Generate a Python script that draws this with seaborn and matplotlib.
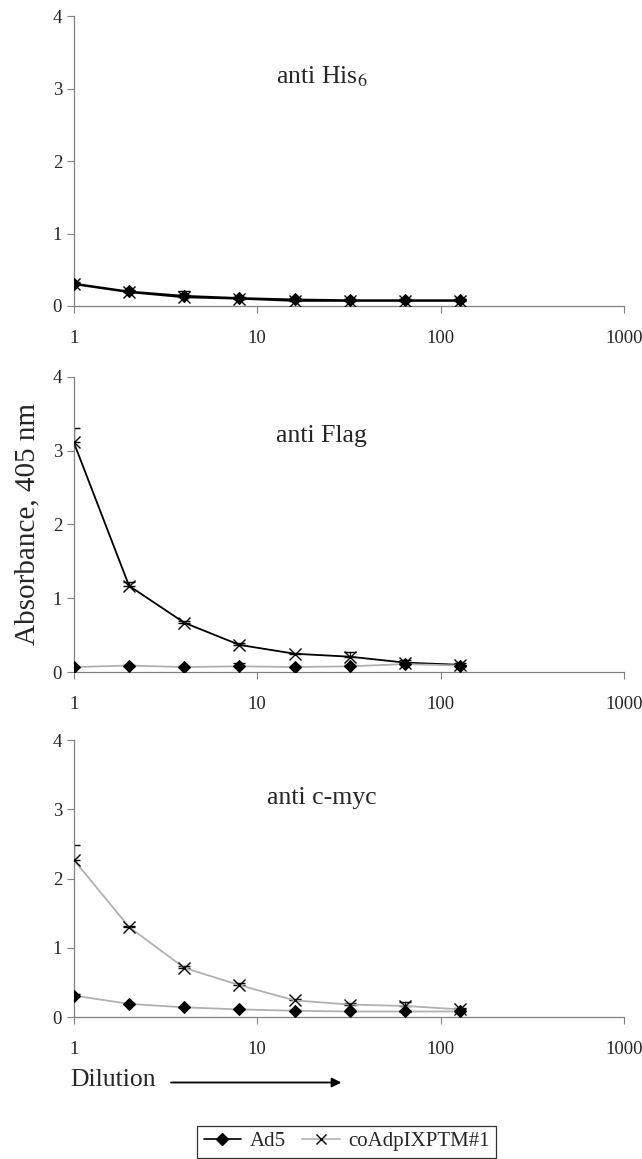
import matplotlib
matplotlib.use("Agg")
import matplotlib.pyplot as plt
import seaborn as sns
import pandas as pd
from matplotlib.lines import Line2D

dilution = [1, 2, 4, 8, 16, 32, 64, 128]

# anti His6
his_ad5 = [0.31, 0.20, 0.14, 0.11, 0.09, 0.08, 0.08, 0.08]
his_co = [0.30, 0.19, 0.12, 0.10, 0.07, 0.07, 0.07, 0.07]
his_ad5_err = [0.02, 0.02, 0.07, 0.02, 0.01, 0.01, 0.01, 0.01]
his_co_err = [0.02, 0.02, 0.03, 0.02, 0.02, 0.02, 0.02, 0.02]

# anti Flag
flag_ad5 = [0.07, 0.09, 0.07, 0.08, 0.07, 0.08, 0.11, 0.09]
flag_co = [3.11, 1.17, 0.67, 0.37, 0.25, 0.21, 0.13, 0.10]
flag_ad5_err = [0.01, 0.01, 0.01, 0.04, 0.01, 0.02, 0.02, 0.01]
flag_co_err = [0.20, 0.05, 0.02, 0.02, 0.01, 0.06, 0.03, 0.02]

# anti c-myc
myc_ad5 = [0.31, 0.19, 0.14, 0.11, 0.09, 0.08, 0.08, 0.08]
myc_co = [2.27, 1.30, 0.71, 0.46, 0.24, 0.18, 0.16, 0.11]
myc_ad5_err = [0.02, 0.01, 0.01, 0.01, 0.01, 0.01, 0.01, 0.01]
myc_co_err = [0.21, 0.02, 0.02, 0.03, 0.02, 0.02, 0.05, 0.02]

titles = ["anti His$_6$", "anti Flag", "anti c-myc"]
series_labels = ["Ad5", "coAdpIXPTM#1"]

sns.set_style("white")
plt.rcParams["font.family"] = ["Liberation Serif", "DejaVu Serif"]
plt.rcParams["mathtext.fontset"] = "stix"

fig = plt.figure(figsize=(6.42, 11.59), dpi=100)

# axes rectangles in figure fraction [left, bottom, width, height]
rects = [
    [0.115, 0.736, 0.857, 0.250],
    [0.115, 0.420, 0.857, 0.255],
    [0.115, 0.1225, 0.857, 0.239],
]
title_y = [0.79, 0.80, 0.79]

panels = [
    (his_ad5, his_ad5_err, his_co, his_co_err, "black", "black"),
    (flag_ad5, flag_ad5_err, flag_co, flag_co_err, "#b0b0b0", "black"),
    (myc_ad5, myc_ad5_err, myc_co, myc_co_err, "#b0b0b0", "#b0b0b0"),
]

for i, (ad5, ad5_err, co, co_err, c_ad5, c_co) in enumerate(panels):
    ax = fig.add_axes(rects[i])
    df = pd.DataFrame({"Dilution": dilution, "Ad5": ad5, "co": co})

    sns.lineplot(data=df, x="Dilution", y="co", ax=ax, color=c_co, lw=1.3,
                 marker="x", markersize=8, markeredgecolor="black",
                 markeredgewidth=1.0, zorder=3)
    sns.lineplot(data=df, x="Dilution", y="Ad5", ax=ax, color=c_ad5, lw=1.3,
                 marker="D", markersize=6, markerfacecolor="black",
                 markeredgecolor="black", zorder=4)

    # only positive error bars, as in the original
    ax.errorbar(dilution, co, yerr=[[0] * len(co), co_err], fmt="none",
                ecolor="black", elinewidth=0.9, capsize=4, zorder=2)
    ax.errorbar(dilution, ad5, yerr=[[0] * len(ad5), ad5_err], fmt="none",
                ecolor="black", elinewidth=0.9, capsize=4, zorder=2)

    ax.set_xscale("log")
    ax.set_xlim(1, 1000)
    ax.set_ylim(0, 4)
    ax.set_xticks([1, 10, 100, 1000])
    ax.set_xticklabels(["1", "10", "100", "1000"])
    ax.set_yticks([0, 1, 2, 3, 4])
    ax.minorticks_off()
    ax.tick_params(axis="both", labelsize=13.5, direction="out", length=5,
                   width=0.8, color="#808080", left=True, bottom=True)
    ax.tick_params(axis="x", pad=12)
    ax.set_xlabel("")
    ax.set_ylabel("")
    for side in ["top", "right"]:
        ax.spines[side].set_visible(False)
    for side in ["left", "bottom"]:
        ax.spines[side].set_color("#808080")
        ax.spines[side].set_linewidth(0.9)
    ax.text(0.45, title_y[i], titles[i], transform=ax.transAxes,
            ha="center", va="center", fontsize=18.5)
    ax.set_facecolor("white")

fig.text(0.043, 0.548, "Absorbance, 405 nm", rotation=90, ha="center",
         va="center", fontsize=21)

fig.text(0.109, 0.068, "Dilution", ha="left", va="center", fontsize=18.5)
fig.add_artist(matplotlib.patches.FancyArrowPatch(
    (0.262, 0.066), (0.536, 0.066), transform=fig.transFigure,
    arrowstyle="-|>", mutation_scale=14, color="black", lw=1.3))

handles = [
    Line2D([], [], color="black", marker="D", markersize=6, lw=1.2),
    Line2D([], [], color="#b0b0b0", marker="x", markersize=7,
           markeredgecolor="black", lw=1.2),
]
leg = fig.legend(handles, series_labels, loc="center", ncol=2,
                 bbox_to_anchor=(0.54, 0.015), fontsize=15, frameon=True,
                 fancybox=False, handlelength=1.8, handletextpad=0.4,
                 columnspacing=0.8, borderpad=0.3)
leg.get_frame().set_edgecolor("black")
leg.get_frame().set_linewidth(0.9)

fig.savefig("out.png", dpi=100, facecolor="white")
